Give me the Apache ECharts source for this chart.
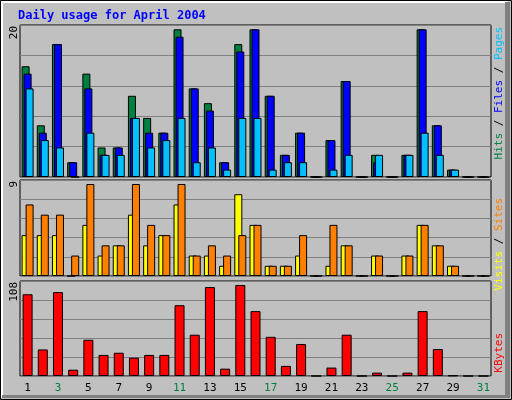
<!DOCTYPE html>
<html><head><meta charset="utf-8">
<script src="https://cdn.jsdelivr.net/npm/echarts@6/dist/echarts.min.js"></script>
<style>html,body{margin:0;padding:0;background:#c0c0c0}#c{width:512px;height:400px}</style>
</head><body><div id="c"></div>
<script>
const days = Array.from({length:31},(_,i)=>String(i+1));
const weekend = ['3','4','10','11','17','18','24','25','31'];
const hits   = [15,7,18,2,14,4,4,11,8,6,20,12,10,2,18,20,11,3,6,0,5,13,0,3,0,3,20,7,1,0,0];
const files  = [14,6,18,2,12,3,4,8,6,6,19,12,9,2,17,20,11,3,6,0,5,13,0,2,0,3,20,7,1,0,0];
const pages  = [12,5,4,0,6,3,3,8,4,5,8,2,4,1,8,8,1,2,2,0,1,3,0,3,0,3,6,3,1,0,0];
const sites  = [4,4,4,0,5,2,3,6,3,4,7,2,2,1,8,5,1,1,2,0,1,3,0,2,0,2,5,3,1,0,0];
const visits = [7,6,6,2,9,3,3,9,5,4,9,2,3,2,4,5,1,1,4,0,5,3,0,2,0,2,5,3,1,0,0];
const kbytes = [97,31.5,99.6,7.5,43,25,27.6,21.7,25,25,84,49,105.5,8.7,108,77,46.5,12,38,0,10,49,0,4,0,4,77,32,0.6,0,0];
const maxLabels = ['20','9','108'];

const chart = echarts.init(document.getElementById('c'));
const mono = 'DejaVu Sans Mono';
const grids = [
  {left:20,right:21,top:25,height:152},
  {left:20,right:21,top:180,height:96},
  {left:20,right:21,top:281,height:95}
].map(g=>Object.assign(g,{show:true,borderColor:'#000',borderWidth:1,backgroundColor:'#c0c0c0'}));
const ymax=[20*455/442, 9*288/276, 108*286/274];
const xAxes = [0,1,2].map(i=>({type:'category',gridIndex:i,data:days,
  axisLine:{show:false},axisTick:{show:false},
  axisLabel:{show:i===2,fontFamily:mono,fontSize:11,margin:7,
    color:(v)=>weekend.includes(v)?'#008040':'#000'}}));
const yAxes = [0,1,2].map(i=>({type:'value',gridIndex:i,min:0,max:ymax[i],interval:ymax[i]/5,
  axisLabel:{show:false},axisLine:{show:false},axisTick:{show:false},
  splitLine:{lineStyle:{color:'#808080',width:1}}}));
const bs = (name,data,color,xi,w,gap)=>({name,type:'bar',data,xAxisIndex:xi,yAxisIndex:xi,
  barWidth:w,barGap:gap,itemStyle:{color,borderColor:'#000',borderWidth:1},animation:false});
const rot = (x,y,rich,text)=>({type:'text',x,y,rotation:Math.PI/2,
  style:{text,rich,fontFamily:mono,fontSize:11,align:'right',verticalAlign:'middle'}});
chart.setOption({
  backgroundColor:'#c0c0c0',
  grid:grids, xAxis:xAxes, yAxis:yAxes,
  series:[
    bs('Hits',hits,'#008040',0,8,'-75%'),
    bs('Files',files,'#0000ff',0,8,'-75%'),
    bs('Pages',pages,'#00c0ff',0,8,'-75%'),
    bs('Sites',sites,'#ffff00',1,8,'-50%'),
    bs('Visits',visits,'#ff8000',1,8,'-50%'),
    bs('KBytes',kbytes,'#ff0000',2,10,'0%')
  ],
  graphic:[
    {type:'rect',shape:{x:0.5,y:0.5,width:511,height:399},style:{fill:'none',stroke:'#000',lineWidth:1}},
    {type:'polyline',shape:{points:[[2,397],[2,2],[508,2]]},style:{stroke:'#fff',lineWidth:2,fill:'none'}},
    {type:'rect',shape:{x:505,y:2,width:5,height:396},style:{fill:'#808080'}},
    {type:'rect',shape:{x:2,y:395,width:508,height:3},style:{fill:'#808080'}},
    {type:'text',x:18,y:16,style:{text:'Daily usage for April 2004',fontFamily:mono,fontSize:12,fontWeight:'bold',fill:'#0000ff',verticalAlign:'middle'}},
    rot(14,26,{},maxLabels[0]),
    rot(14,181,{},maxLabels[1]),
    rot(14,282,{},maxLabels[2]),
    rot(499,27,{p:{fill:'#00c0ff'},f:{fill:'#0000ff'},h:{fill:'#008040'},s:{fill:'#000'}},'{h|Hits}{s| / }{f|Files}{s| / }{p|Pages}'),
    rot(499,198,{a:{fill:'#ffff00'},b:{fill:'#ff8000'},s:{fill:'#000'}},'{a|Visits}{s| / }{b|Sites}'),
    rot(499,333,{k:{fill:'#ff0000'}},'{k|KBytes}')
  ]
});
</script></body></html>
